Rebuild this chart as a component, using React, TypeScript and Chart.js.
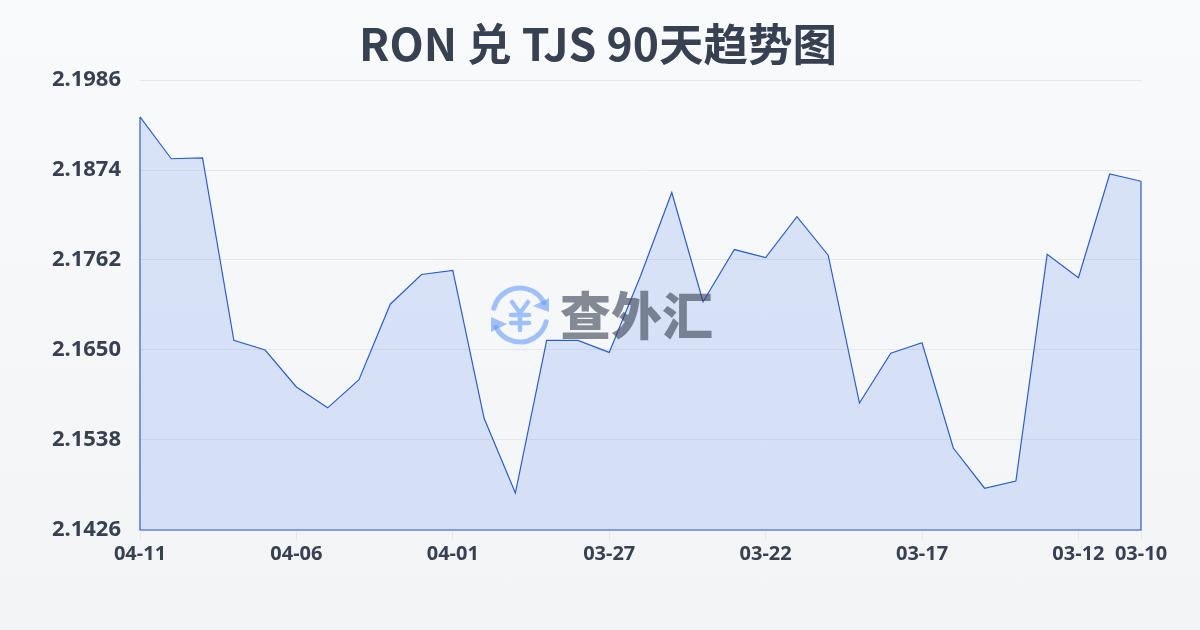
import React, { useEffect, useRef } from "react";
import { Chart, registerables } from "chart.js";

Chart.register(...registerables);

const TITLE = "RON 兑 TJS 90天趋势图";
const WATERMARK = "查外汇";
const FONT = '"Noto Sans", "Noto Sans CJK SC", sans-serif';
const TITLE_FONT = '"Noto Sans CJK SC", "Noto Sans", sans-serif';

const dates = [
  "04-11", "04-10", "04-09", "04-08", "04-07", "04-06", "04-05", "04-04", "04-03", "04-02", "04-01",
  "03-31", "03-30", "03-29", "03-28", "03-27", "03-26", "03-25", "03-24", "03-23", "03-22",
  "03-21", "03-20", "03-19", "03-18", "03-17", "03-16", "03-15", "03-14", "03-13", "03-12", "03-11", "03-10",
];
const rates = [
  2.194, 2.1888, 2.1889, 2.1662, 2.165, 2.1604, 2.1578, 2.1613, 2.1707, 2.1744, 2.1749,
  2.1565, 2.1472, 2.1662, 2.1662, 2.1647, 2.1742, 2.1846, 2.171, 2.1775, 2.1765,
  2.1816, 2.1768, 2.1584, 2.1646, 2.1659, 2.1528, 2.1478, 2.1487, 2.1769, 2.174, 2.1869, 2.186,
];
const yTicks = [2.1426, 2.1538, 2.165, 2.1762, 2.1874, 2.1986];
const xTickIndexes = [0, 5, 10, 15, 20, 25, 30, 32];

const titlePlugin = {
  id: "chartTitleText",
  afterDraw(chart: any) {
    const { ctx } = chart;
    ctx.save();
    ctx.fillStyle = "#374151";
    ctx.font = `bold 44.5px ${TITLE_FONT}`;
    ctx.textAlign = "center";
    ctx.textBaseline = "middle";
    ctx.fillText(TITLE, 598, 44);
    ctx.restore();
  },
};

const outlinePlugin = {
  id: "outline",
  afterDatasetsDraw(chart: any) {
    const { ctx, chartArea } = chart;
    const pts = chart.getDatasetMeta(0).data;
    ctx.save();
    ctx.strokeStyle = "#2a5fc9";
    ctx.lineWidth = 1.2;
    ctx.beginPath();
    ctx.moveTo(pts[0].x, pts[0].y);
    ctx.lineTo(pts[0].x, chartArea.bottom);
    ctx.lineTo(pts[pts.length - 1].x, chartArea.bottom);
    ctx.lineTo(pts[pts.length - 1].x, pts[pts.length - 1].y);
    ctx.stroke();
    ctx.restore();
  },
};

const watermarkPlugin = {
  id: "watermark",
  afterDatasetsDraw(chart: any) {
    const { ctx } = chart;
    const cx = 520;
    const cy = 315;
    const blue = "#689cf7";
    ctx.save();
    ctx.globalAlpha = 0.6;
    ctx.strokeStyle = blue;
    ctx.fillStyle = blue;
    ctx.lineWidth = 5;
    ctx.lineCap = "round";
    ctx.beginPath();
    ctx.arc(cx, cy, 27, Math.PI * 1.08, Math.PI * 1.85);
    ctx.stroke();
    ctx.beginPath();
    ctx.arc(cx, cy, 27, Math.PI * 0.08, Math.PI * 0.85);
    ctx.stroke();
    ctx.beginPath();
    ctx.moveTo(549, 312);
    ctx.lineTo(549, 298);
    ctx.lineTo(533, 306);
    ctx.closePath();
    ctx.fill();
    ctx.beginPath();
    ctx.moveTo(491, 317);
    ctx.lineTo(491, 332);
    ctx.lineTo(507, 324);
    ctx.closePath();
    ctx.fill();
    ctx.lineWidth = 4.5;
    ctx.beginPath();
    ctx.moveTo(512, 302);
    ctx.lineTo(520, 313);
    ctx.lineTo(528, 302);
    ctx.moveTo(520, 313);
    ctx.lineTo(520, 330);
    ctx.moveTo(511, 315);
    ctx.lineTo(529, 315);
    ctx.moveTo(511, 323);
    ctx.lineTo(529, 323);
    ctx.stroke();
    ctx.fillStyle = "#374151";
    ctx.font = `900 51px "Noto Sans CJK SC", sans-serif`;
    ctx.textAlign = "left";
    ctx.textBaseline = "middle";
    ctx.fillText(WATERMARK, 560, 316);
    ctx.restore();
  },
};

export default function App() {
  const ref = useRef<HTMLCanvasElement | null>(null);
  useEffect(() => {
    document.body.style.margin = "0";
    const chart = new Chart(ref.current as HTMLCanvasElement, {
      type: "line",
      data: {
        labels: dates,
        datasets: [
          {
            data: rates,
            borderColor: "#2a5fc9",
            borderWidth: 1.2,
            pointRadius: 0,
            tension: 0,
            fill: "origin",
            backgroundColor: "rgba(37,99,235,0.15)",
          },
        ],
      },
      options: {
        responsive: false,
        animation: false,
        layout: { padding: { left: 0, right: 59, top: 80, bottom: 0 } },
        plugins: {
          legend: { display: false },
          tooltip: { enabled: false },
          title: { display: false },
        },
        scales: {
          x: {
            offset: false,
            afterBuildTicks(axis: any) {
              axis.ticks = xTickIndexes.map((i) => ({ value: i }));
            },
            afterFit(axis: any) {
              axis.height = 100;
            },
            border: { display: false },
            grid: { drawOnChartArea: false, drawTicks: true, tickLength: 10, color: "#e5e7eb" },
            ticks: {
              autoSkip: false,
              maxRotation: 0,
              padding: 2,
              color: "#374151",
              font: { family: FONT, size: 20, weight: "bold" },
            },
          },
          y: {
            min: 2.1426,
            max: 2.1986,
            afterBuildTicks(axis: any) {
              axis.ticks = yTicks.map((v) => ({ value: v }));
            },
            afterFit(axis: any) {
              axis.width = 140;
            },
            border: { display: false },
            grid: { drawTicks: false, color: "#e5e7eb" },
            ticks: {
              padding: 19,
              color: "#374151",
              font: { family: FONT, size: 22, weight: "bold" },
              callback: (v: any) => Number(v).toFixed(4),
            },
          },
        },
      },
      plugins: [titlePlugin, outlinePlugin, watermarkPlugin],
    } as any);
    return () => chart.destroy();
  }, []);
  return (
    <div
      style={{
        position: "absolute",
        left: 0,
        top: 0,
        width: 1200,
        height: 630,
        background: "linear-gradient(180deg, #f9fafb 0%, #f3f4f6 100%)",
      }}
    >
      <canvas ref={ref} width={1200} height={630} style={{ display: "block" }} />
    </div>
  );
}
